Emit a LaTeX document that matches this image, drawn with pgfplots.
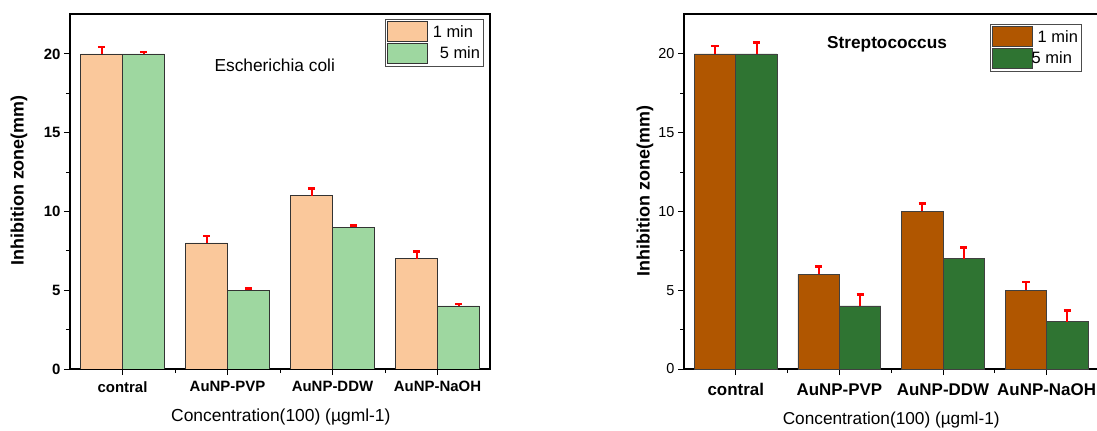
\documentclass[border=0pt]{standalone}
\usepackage{pgfplots}
\pgfplotsset{compat=1.18}
\usepackage{fontspec}
\setmainfont{Liberation Sans}
\definecolor{peach}{RGB}{250,200,155}
\definecolor{lgreen}{RGB}{158,215,160}
\definecolor{brownA}{RGB}{176,86,0}
\definecolor{dgreen}{RGB}{47,116,50}
\pgfplotsset{
  common/.style={
    scale only axis, height=355bp,
    xmin=-0.5, xmax=3.5, ymin=0, ymax=22.54,
    xtick={0,1,2,3}, xticklabels={contral,AuNP-PVP,AuNP-DDW,AuNP-NaOH},
    minor xtick={0.5,1.5,2.5},
    ytick={0,5,10,15,20}, minor ytick={2.5,7.5,12.5,17.5},
    tick align=outside, tick pos=left,
    major tick length=6bp, minor tick length=4bp,
    axis line style={line width=1.3bp},
    every tick/.style={black, line width=1bp},
    /pgf/number format/assume math mode=true,
    legend image code/.code={\draw[#1] (0bp,-10bp) rectangle (40bp,10bp);},
    legend cell align=left,
    unbounded coords=jump,
  },
  stem/.style={red, line width=2bp, forget plot, mark=none, sharp plot},
  cap/.style={red, line width=2.6bp, forget plot, mark=none, sharp plot},
}
\begin{document}
\begin{tikzpicture}
\useasboundingbox (0,0) rectangle (1097bp,431bp);
% ---------- left chart ----------
\begin{axis}[common,
  at={(70bp,62bp)}, anchor=south west, width=420bp,
  xticklabel style={font=\fontsize{15}{18}\selectfont\bfseries, yshift=-3bp},
  yticklabel style={font=\fontsize{15}{18}\selectfont\bfseries},
  every axis y label/.style={at={(axis description cs:-0.1214,0.531)}, anchor=center, rotate=90},
  every axis x label/.style={at={(axis description cs:0.502,0)}, anchor=center, yshift=-48bp},
  ylabel={\fontsize{18}{20}\selectfont\bfseries Inhibition zone(mm)},
  xlabel={\fontsize{17.5}{20}\selectfont Concentration(100) (µgml-1)},
  legend style={at={(1,1)}, anchor=north east, xshift=-6bp, yshift=-5bp,
    draw=black!70, line width=1bp, inner xsep=1.5bp, inner ysep=2bp,
    font=\fontsize{16.5}{19}\selectfont, row sep=1bp, column sep=3bp},
]
\addplot[ybar, bar width=0.4, bar shift=-0.2, fill=peach, draw=black!80, line width=0.8bp]
  coordinates {(0,20) (1,8) (2,11) (3,7)};
\addlegendentry{1 min}
\addplot[ybar, bar width=0.4, bar shift=0.2, fill=lgreen, draw=black!80, line width=0.8bp]
  coordinates {(0,20) (1,5) (2,9) (3,4)};
\addlegendentry{\hspace{7bp}5 min}
% error bars (upper only): 1 min
\addplot[stem] coordinates {(-0.2,20) (-0.2,20.45) (nan,nan) (0.8,8) (0.8,8.45) (nan,nan) (1.8,11) (1.8,11.45) (nan,nan) (2.8,7) (2.8,7.45)};
\addplot[cap] coordinates {(-0.235,20.45) (-0.165,20.45) (nan,nan) (0.765,8.45) (0.835,8.45) (nan,nan) (1.765,11.45) (1.835,11.45) (nan,nan) (2.765,7.45) (2.835,7.45)};
% error bars: 5 min
\addplot[stem] coordinates {(0.2,20) (0.2,20.12) (nan,nan) (1.2,5) (1.2,5.12) (nan,nan) (2.2,9) (2.2,9.12) (nan,nan) (3.2,4) (3.2,4.12)};
\addplot[cap] coordinates {(0.165,20.12) (0.235,20.12) (nan,nan) (1.165,5.12) (1.235,5.12) (nan,nan) (2.165,9.12) (2.235,9.12) (nan,nan) (3.165,4.12) (3.235,4.12)};
\node[font=\fontsize{17.4}{20}\selectfont] at (axis cs:1.45,19.3) {Escherichia coli};
\end{axis}
% ---------- right chart ----------
\begin{axis}[common,
  at={(684bp,62bp)}, anchor=south west, width=414.4bp,
  xticklabel style={font=\fontsize{17}{20}\selectfont\bfseries, yshift=-5bp},
  yticklabel style={font=\fontsize{14.5}{17}\selectfont},
  every axis y label/.style={at={(axis description cs:-0.0941,0.501)}, anchor=center, rotate=90},
  every axis x label/.style={at={(axis description cs:0.5,0)}, anchor=center, yshift=-51bp},
  ylabel={\fontsize{18}{20}\selectfont\bfseries Inhibition zone(mm)},
  xlabel={\fontsize{17.3}{20}\selectfont Concentration(100) (µgml-1)},
  legend style={at={(1,1)}, anchor=north east, xshift=-16.5bp, yshift=-10bp,
    draw=black!70, line width=1bp, inner xsep=1.5bp, inner ysep=2bp,
    font=\fontsize{16.5}{19}\selectfont, row sep=1bp, column sep=3bp},
]
\addplot[ybar, bar width=0.4, bar shift=-0.2, fill=brownA, draw=black!75, line width=0.8bp]
  coordinates {(0,20) (1,6) (2,10) (3,5)};
\addlegendentry{1 min}
\addplot[ybar, bar width=0.4, bar shift=0.2, fill=dgreen, draw=black!75, line width=0.8bp]
  coordinates {(0,20) (1,4) (2,7) (3,3)};
\addlegendentry{\hspace{-6bp}5 min}
% error bars: 1 min
\addplot[stem] coordinates {(-0.2,20) (-0.2,20.52) (nan,nan) (0.8,6) (0.8,6.52) (nan,nan) (1.8,10) (1.8,10.52) (nan,nan) (2.8,5) (2.8,5.52)};
\addplot[cap] coordinates {(-0.235,20.52) (-0.165,20.52) (nan,nan) (0.765,6.52) (0.835,6.52) (nan,nan) (1.765,10.52) (1.835,10.52) (nan,nan) (2.765,5.52) (2.835,5.52)};
% error bars: 5 min
\addplot[stem] coordinates {(0.2,20) (0.2,20.74) (nan,nan) (1.2,4) (1.2,4.72) (nan,nan) (2.2,7) (2.2,7.72) (nan,nan) (3.2,3) (3.2,3.72)};
\addplot[cap] coordinates {(0.165,20.74) (0.235,20.74) (nan,nan) (1.165,4.72) (1.235,4.72) (nan,nan) (2.165,7.72) (2.235,7.72) (nan,nan) (3.165,3.72) (3.235,3.72)};
\node[font=\fontsize{17.3}{20}\selectfont\bfseries] at (axis cs:1.46,20.63) {Streptococcus};
\end{axis}
\end{tikzpicture}
\end{document}
